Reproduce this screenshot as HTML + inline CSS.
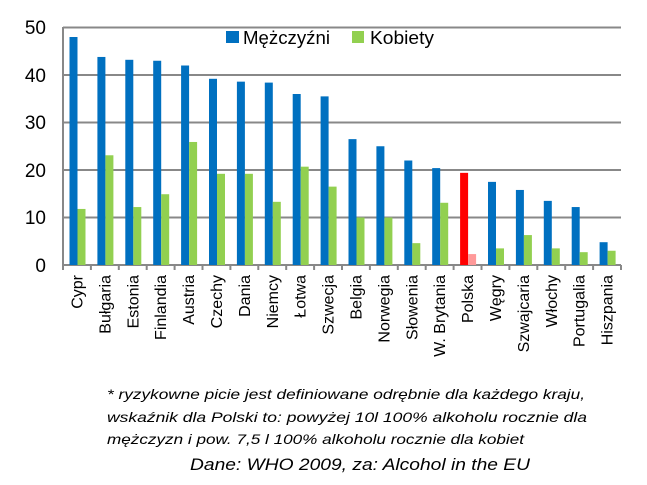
<!DOCTYPE html>
<html><head><meta charset="utf-8"><style>html,body{margin:0;padding:0;background:#fff}svg{display:block}</style></head>
<body>
<svg width="647" height="485" xmlns="http://www.w3.org/2000/svg" font-family="Liberation Sans, sans-serif">
<g stroke="#888" stroke-width="2">
<line x1="63" y1="27.5" x2="621" y2="27.5"/>
<line x1="63" y1="75" x2="621" y2="75"/>
<line x1="63" y1="122.5" x2="621" y2="122.5"/>
<line x1="63" y1="170" x2="621" y2="170"/>
<line x1="63" y1="217.5" x2="621" y2="217.5"/>
<line x1="63" y1="265" x2="621" y2="265"/>
<line x1="63" y1="27" x2="63" y2="270"/>
</g>
<g font-size="19" fill="#000" text-anchor="end">
<text x="46" y="34">50</text><text x="46" y="82">40</text><text x="46" y="129">30</text>
<text x="46" y="177">20</text><text x="46" y="224">10</text><text x="46" y="272">0</text>
</g>
<g id="bars"></g>
<rect x="226" y="31" width="13" height="12" fill="#0070c0"/>
<text x="243" y="44" font-size="18.5" textLength="87" lengthAdjust="spacingAndGlyphs">Mężczyźni</text>
<rect x="352" y="31" width="12" height="12" fill="#92d050"/>
<text x="370" y="44" font-size="18.5" textLength="64" lengthAdjust="spacingAndGlyphs">Kobiety</text>
<g font-size="14" font-style="italic">
<text x="107" y="399" textLength="478" lengthAdjust="spacingAndGlyphs">* ryzykowne picie jest definiowane odrębnie dla każdego kraju,</text>
<text x="107" y="422" textLength="480" lengthAdjust="spacingAndGlyphs">wskaźnik dla Polski to: powyżej 10l 100% alkoholu rocznie dla</text>
<text x="107" y="444" textLength="417" lengthAdjust="spacingAndGlyphs">mężczyzn i pow. 7,5 l 100% alkoholu rocznie dla kobiet</text>
</g>
<text x="190" y="470" font-size="17" font-style="italic" textLength="340" lengthAdjust="spacingAndGlyphs">Dane: WHO 2009, za: Alcohol in the EU</text>
<g id="x"></g>
</svg>
<script>
var n=["Cypr","Bułgaria","Estonia","Finlandia","Austria","Czechy","Dania","Niemcy","Łotwa","Szwecja","Belgia","Norwegia","Słowenia","W. Brytania","Polska","Węgry","Szwajcaria","Włochy","Portugalia","Hiszpania"];
var m=[48,43.8,43.2,43,42,39.2,38.6,38.4,36,35.5,26.5,25,22,20.4,19.4,17.5,15.8,13.5,12.2,4.8];
var k=[11.8,23.1,12.2,14.9,25.9,19.2,19.2,13.3,20.7,16.5,10,10,4.6,13.1,2.3,3.5,6.3,3.5,2.7,3.0];
var s="",t="",w=558/20;
for(var i=0;i<20;i++){var x0=63+i*w;
var hb=m[i]*4.75,hg=k[i]*4.75;
var cb=i==14?"#ff0000":"#0070c0",cg=i==14?"#ff9999":"#92d050";
s+='<rect x="'+(x0+6.5)+'" y="'+(265-hb)+'" width="8" height="'+hb+'" fill="'+cb+'"/>';
s+='<rect x="'+(x0+14.5)+'" y="'+(265-hg)+'" width="8" height="'+hg+'" fill="'+cg+'"/>';
s+='<line x1="'+(x0+w)+'" y1="265" x2="'+(x0+w)+'" y2="270" stroke="#888" stroke-width="2"/>';
var cx=x0+w/2+5.5;
t+='<text font-size="16" text-anchor="end" transform="translate('+cx+',275) rotate(-90)">'+n[i]+'</text>';}
document.getElementById("bars").innerHTML=s;
document.getElementById("x").innerHTML=t;
</script>
</body></html>
